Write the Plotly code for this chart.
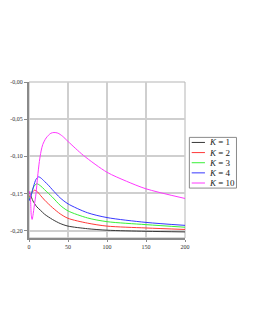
import plotly.graph_objects as go

# ---- data ----
labels = ["K = 1", "K = 2", "K = 3", "K = 4", "K = 10"]
colors = ["#383838", "#ff3838", "#38f038", "#3838ff", "#ff38ff"]

x_k1 = [0, 2, 5, 10, 15, 20, 30, 40, 50, 75, 100, 150, 200]
y_k1 = [-0.148, -0.152, -0.160, -0.168, -0.173, -0.178, -0.185, -0.1905, -0.194, -0.1975, -0.1995, -0.201, -0.2018]

x_k2 = [0, 3, 7, 10, 15, 20, 30, 40, 50, 75, 100, 150, 200]
y_k2 = [-0.155, -0.150, -0.1457, -0.147, -0.153, -0.159, -0.169, -0.1775, -0.1835, -0.190, -0.194, -0.1965, -0.1985]

x_k3 = [0, 3, 6, 10, 15, 20, 30, 40, 50, 75, 100, 150, 200]
y_k3 = [-0.158, -0.150, -0.141, -0.137, -0.140, -0.145, -0.155, -0.166, -0.1735, -0.183, -0.188, -0.192, -0.1955]

x_k4 = [0, 3, 6, 9, 12, 15, 20, 25, 30, 40, 50, 75, 100, 150, 200]
y_k4 = [-0.160, -0.152, -0.140, -0.131, -0.1277, -0.129, -0.134, -0.139, -0.145, -0.156, -0.164, -0.176, -0.1825, -0.189, -0.1930]

x_k10 = [0, 1, 2, 3, 4, 5, 7, 9, 11, 13.3, 15.5, 17.6, 22, 28, 32, 37, 43, 50, 70, 100, 125, 150, 200]
y_k10 = [-0.150, -0.147, -0.160, -0.180, -0.185, -0.180, -0.165, -0.150, -0.128, -0.107, -0.093, -0.0843, -0.0753, -0.0690, -0.0680, -0.0688, -0.0730, -0.0800, -0.0990, -0.1215, -0.1336, -0.1438, -0.1568]

series_x = [x_k1, x_k2, x_k3, x_k4, x_k10]
series_y = [y_k1, y_k2, y_k3, y_k4, y_k10]

x_tickvals = [0, 50, 100, 150, 200]
x_ticktext = ["0", "50", "100", "150", "200"]
y_tickvals = [0, -0.05, -0.10, -0.15, -0.20]
y_ticktext = ["-0,00", "-0,05", "-0,10", "-0,15", "-0,20"]

fig = go.Figure()
for xs, ys, c, lab in zip(series_x, series_y, colors, labels):
    fig.add_trace(go.Scatter(x=xs, y=ys, mode="lines", name=lab,
                             line=dict(color=c, width=1, shape="spline", smoothing=0.8),
                             showlegend=False))

font_family = "Liberation Serif, Times New Roman, serif"

fig.update_layout(
    width=245, height=319,
    margin=dict(l=21, r=68, t=74, b=89),
    paper_bgcolor="white", plot_bgcolor="white",
    font=dict(family=font_family, size=6, color="#303030"),
    xaxis=dict(range=[0, 200], tickvals=x_tickvals, ticktext=x_ticktext,
               showgrid=True, gridcolor="#cfcfcf", gridwidth=1.5,
               showline=True, linecolor="#8a8a8a", linewidth=2,
               ticks="outside", ticklen=2, tickcolor="#8a8a8a",
               zeroline=False, tickfont=dict(size=6), automargin=False),
    yaxis=dict(range=[-0.21, 0], tickvals=y_tickvals, ticktext=y_ticktext,
               showgrid=True, gridcolor="#cfcfcf", gridwidth=1.5,
               showline=True, linecolor="#8a8a8a", linewidth=2,
               ticks="outside", ticklen=3, tickcolor="#8a8a8a",
               zeroline=False, tickfont=dict(size=6), automargin=False),
    showlegend=False,
)

# top / right frame
fig.add_shape(type="rect", xref="paper", yref="paper", x0=0, x1=1, y0=0, y1=1,
              line=dict(color="#b5b5b5", width=1), layer="below")

# legend box drawn in paper coordinates
lx0, lx1 = 1.028, 1.33
ly_top, ly_bot = 0.645, 0.32
fig.add_shape(type="rect", xref="paper", yref="paper", x0=lx0, x1=lx1, y0=ly_bot, y1=ly_top,
              line=dict(color="#8a8a8a", width=1), fillcolor="white")
n = len(labels)
step = (ly_top - ly_bot) / n
for i, (lab, c) in enumerate(zip(labels, colors)):
    yy = ly_top - step * (i + 0.5)
    fig.add_shape(type="line", xref="paper", yref="paper", x0=lx0 + 0.015, x1=lx0 + 0.1,
                  y0=yy, y1=yy, line=dict(color=c, width=1))
    k, rest = lab.split(" ", 1)
    fig.add_annotation(xref="paper", yref="paper", x=lx0 + 0.115, y=yy, xanchor="left",
                       yanchor="middle", showarrow=False,
                       text=f"<i>{k}</i> {rest}", font=dict(size=9, color="#202020", family=font_family))

fig.write_html("out.html")
